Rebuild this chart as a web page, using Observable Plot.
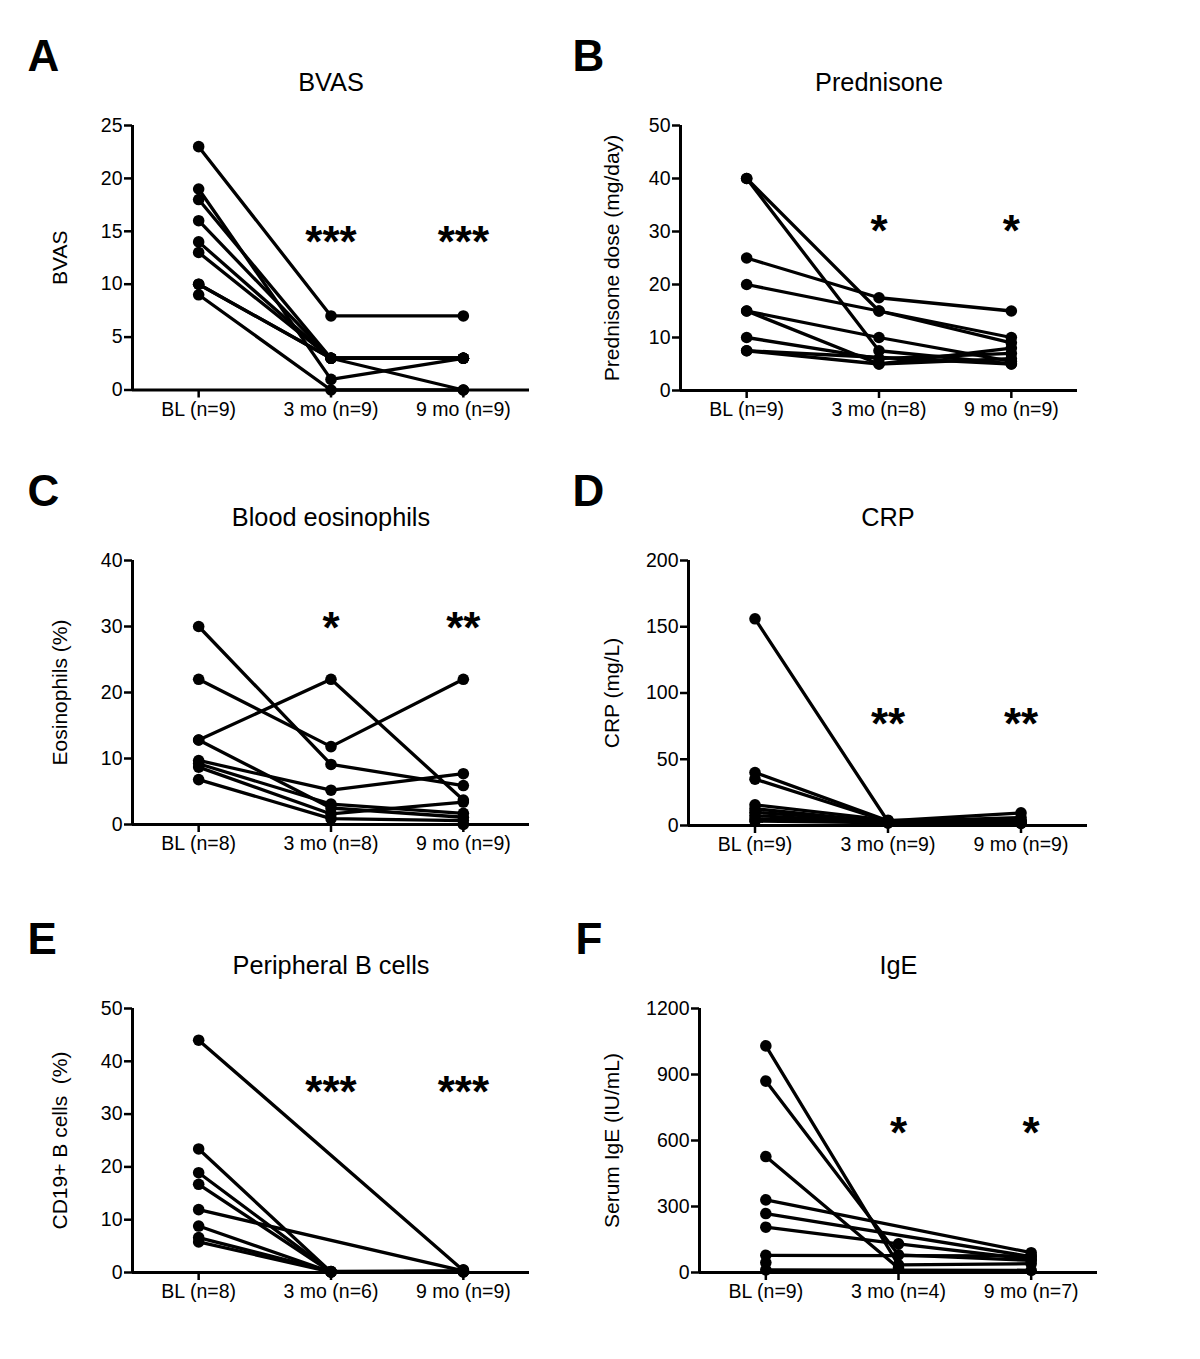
<!DOCTYPE html>
<html><head><meta charset="utf-8">
<script src="https://cdn.jsdelivr.net/npm/d3@7"></script>
<script src="https://cdn.jsdelivr.net/npm/@observablehq/plot@0.6"></script>
<style>
body{margin:0;background:#fff;}
#root{position:relative;width:1200px;height:1359px;background:#fff;overflow:hidden;}
#root > div{position:absolute;}
#root svg{overflow:visible;}
</style></head><body><div id="root"></div>
<script>
// ---- data (patient rows: [BL, 3 mo, 9 mo]; null = missing) ----
const bvasTimes = ["BL (n=9)", "3 mo (n=9)", "9 mo (n=9)"];
const bvasTicks = [0, 5, 10, 15, 20, 25];
const bvasStars = ["", "***", "***"];
const bvasValues = [[23,7,7],[19,1,3],[18,3,3],[16,3,3],[14,3,0],[13,3,3],[10,3,3],[10,3,3],[9,0,0]];

const predTimes = ["BL (n=9)", "3 mo (n=8)", "9 mo (n=9)"];
const predTicks = [0, 10, 20, 30, 40, 50];
const predStars = ["", "*", "*"];
const predValues = [[40,15,10],[40,7.5,5],[25,17.5,15],[20,15,9],[15,10,5.5],[15,5,8],[10,6,7],[7.5,5,6],[7.5,null,5]];

const eosTimes = ["BL (n=8)", "3 mo (n=8)", "9 mo (n=9)"];
const eosTicks = [0, 10, 20, 30, 40];
const eosStars = ["", "*", "**"];
const eosValues = [[30,9.1,5.9],[22,11.8,22],[12.8,22,3.7],[12.8,2.5,1.1],[9.7,5.2,7.7],[9.2,3.1,1.7],[8.7,1.6,3.4],[6.8,0.9,0.6],[null,null,0]];

const crpTimes = ["BL (n=9)", "3 mo (n=9)", "9 mo (n=9)"];
const crpTicks = [0, 50, 100, 150, 200];
const crpStars = ["", "**", "**"];
const crpValues = [[156,3,2],[40,3.5,9.5],[35,3,6],[15.6,4,3],[12.6,2.5,2.5],[10,3,4],[7.5,2,1.5],[5,3.5,3],[3.3,2,2]];

const bcellTimes = ["BL (n=8)", "3 mo (n=6)", "9 mo (n=9)"];
const bcellTicks = [0, 10, 20, 30, 40, 50];
const bcellStars = ["", "***", "***"];
const bcellValues = [[44,null,0.4],[23.4,0.1,0.2],[18.9,0.2,0.3],[16.7,0.1,0.1],[11.9,null,0.3],[8.8,0.1,0.2],[6.6,0.2,0.1],[5.8,0.1,0.2],[null,null,0.5]];

const igeTimes = ["BL (n=9)", "3 mo (n=4)", "9 mo (n=7)"];
const igeTicks = [0, 300, 600, 900, 1200];
const igeStars = ["", "*", "*"];
const igeValues = [[1030,35,40],[870,80,55],[527,20,null],[330,null,90],[268,null,72],[206,130,60],[78,null,75],[45,null,null],[12,null,10]];

const FONT = "'Liberation Sans', Arial, Helvetica, sans-serif";

const panels = [
  {letter:"A", title:"BVAS", ylabel:"BVAS", times:bvasTimes, ticks:bvasTicks, stars:bvasStars, starLevel:12.6, values:bvasValues,
   left:0, top:20, width:550, height:415, ml:132, mr:21, mt:105, mb:45.5, letterDx:-105, ylabelDx:-72},
  {letter:"B", title:"Prednisone", ylabel:"Prednisone dose (mg/day)", times:predTimes, ticks:predTicks, stars:predStars, starLevel:27.2, values:predValues,
   left:550, top:20, width:550, height:415, ml:130, mr:23, mt:105, mb:45, letterDx:-108, ylabelDx:-68},
  {letter:"C", title:"Blood eosinophils", ylabel:"Eosinophils (%)", times:eosTimes, ticks:eosTicks, stars:eosStars, starLevel:27.5, values:eosValues,
   left:0, top:455, width:550, height:414, ml:132, mr:21, mt:105, mb:45, letterDx:-105, ylabelDx:-72},
  {letter:"D", title:"CRP", ylabel:"CRP (mg/L)", times:crpTimes, ticks:crpTicks, stars:crpStars, starLevel:65, values:crpValues,
   left:550, top:455, width:560, height:415, ml:138, mr:23, mt:105, mb:45, letterDx:-116, ylabelDx:-76},
  {letter:"E", title:"Peripheral B cells", ylabel:"CD19+ B cells  (%)", times:bcellTimes, ticks:bcellTicks, stars:bcellStars, starLevel:31.3, values:bcellValues,
   left:0, top:903, width:550, height:414, ml:132, mr:21, mt:105, mb:45, letterDx:-105, ylabelDx:-72},
  {letter:"F", title:"IgE", ylabel:"Serum IgE (IU/mL)", times:igeTimes, ticks:igeTicks, stars:igeStars, starLevel:567, values:igeValues,
   left:550, top:903, width:570, height:414, ml:149, mr:23, mt:105, mb:45, letterDx:-124, ylabelDx:-87}
];

const root = document.getElementById("root");
for (const p of panels) {
  const rows = [];
  p.values.forEach((v, i) => v.forEach((y, t) => { if (y != null) rows.push({patient: i, t, y}); }));
  const yMax = p.ticks[p.ticks.length - 1];
  const chart = Plot.plot({
    width: p.width, height: p.height,
    marginLeft: p.ml, marginRight: p.mr, marginTop: p.mt, marginBottom: p.mb,
    style: {fontFamily: FONT, fontSize: "19.5px", color: "black", background: "white", overflow: "visible"},
    x: {domain: [-0.5, 2.5]},
    y: {domain: [0, yMax]},
    marks: [
      Plot.axisY({ticks: p.ticks, tickFormat: d => String(d), tickSize: 8, tickPadding: 2, strokeWidth: 2.5, label: null}),
      Plot.axisX({ticks: [0, 1, 2], tickFormat: i => p.times[i], tickSize: 8, tickPadding: 4, strokeWidth: 2.5, label: null}),
      Plot.ruleX([-0.5], {strokeWidth: 3, stroke: "black"}),
      Plot.ruleY([0], {strokeWidth: 3, stroke: "black"}),
      Plot.line(rows, {x: "t", y: "y", z: "patient", stroke: "black", strokeWidth: 3.3}),
      Plot.dot(rows, {x: "t", y: "y", r: 5.8, fill: "black"}),
      Plot.text(p.stars, {x: (d, i) => i, y: () => p.starLevel, text: d => d, lineAnchor: "bottom", fontSize: 44, fontWeight: "bold"}),
      Plot.text([p.title], {text: d => d, frameAnchor: "top", dy: -35, lineAnchor: "bottom", textAnchor: "middle", fontSize: 25.3}),
      Plot.text([p.ylabel], {text: d => d, frameAnchor: "left", rotate: -90, dx: p.ylabelDx, textAnchor: "middle", lineAnchor: "middle", fontSize: 21}),
      Plot.text([p.letter], {text: d => d, frameAnchor: "top-left", dx: p.letterDx, dy: -55, lineAnchor: "bottom", textAnchor: "start", fontSize: 44, fontWeight: "bold"})
    ]
  });
  const div = document.createElement("div");
  div.style.left = p.left + "px";
  div.style.top = p.top + "px";
  div.appendChild(chart);
  root.appendChild(div);
}
</script>
</body></html>
